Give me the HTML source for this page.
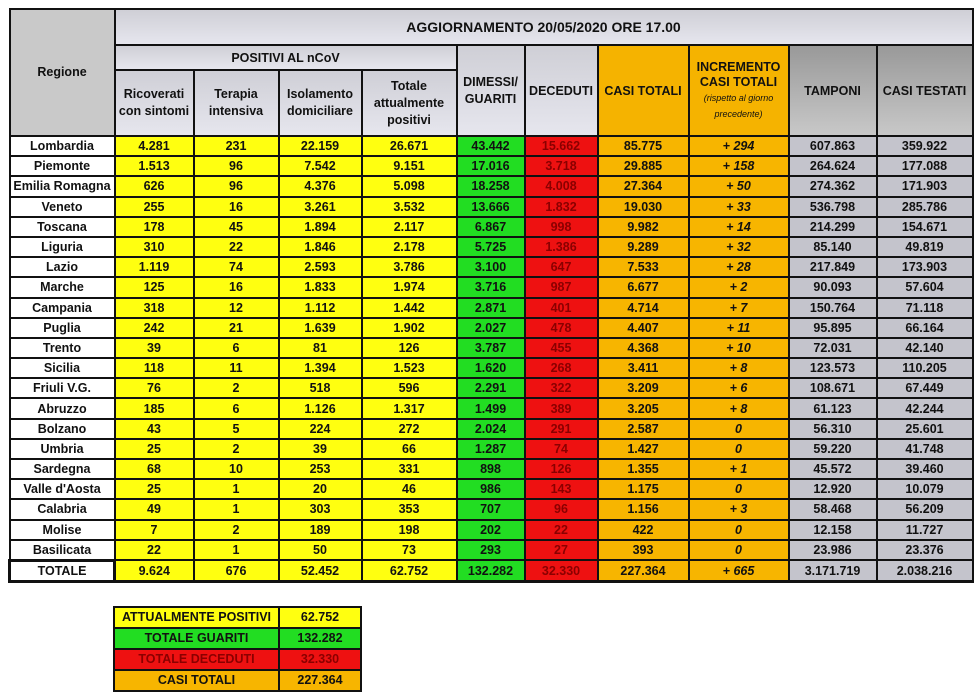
<!DOCTYPE html>
<html><head><meta charset="utf-8"><style>
body{margin:0;width:979px;height:696px;background:#fff;position:relative;overflow:hidden;font-family:"Liberation Sans",Arial,sans-serif;}
table{border-collapse:collapse;table-layout:fixed;position:absolute;}
td{border:2px solid #111;text-align:center;font-weight:bold;font-size:12.5px;padding:0;color:#111;white-space:nowrap;overflow:hidden;}
#t{left:8px;top:8px;width:963px;}
#t tr.d td{height:18.2px;line-height:16px;}
.y{background:#ffff10}.g{background:#22dd22}.r{background:#ee1111;color:#8a0000}.o{background:#f7b500}.gr{background:#c4c4cc}.w{background:#fff}
.o i{font-weight:bold}
.hd{background:linear-gradient(#cfcfd6,#e6e6ee);}
.hg{background:#c9c9c9}
.ho{background:#f5b300}
.ht{background:linear-gradient(#999,#c8c8c8)}
.small{font-size:9px;font-style:italic;font-weight:normal}
#s{left:113px;top:606px;width:247px;}
#s td{height:19px;line-height:17px;font-size:12.5px}
</style></head><body>
<table id="t">
<colgroup><col style="width:105px"><col style="width:79px"><col style="width:85px"><col style="width:83px"><col style="width:95px"><col style="width:68px"><col style="width:73px"><col style="width:91px"><col style="width:100px"><col style="width:88px"><col style="width:96px"></colgroup>
<tr><td rowspan="3" class="hg" style="vertical-align:top;padding-top:55px">Regione</td><td colspan="10" class="hd" style="height:34px;font-size:14px">AGGIORNAMENTO 20/05/2020 ORE 17.00</td></tr>
<tr><td colspan="4" class="hd" style="height:23px">POSITIVI AL nCoV</td><td rowspan="2" class="hd" style="line-height:17px">DIMESSI/<br>GUARITI</td><td rowspan="2" class="hd">DECEDUTI</td><td rowspan="2" class="ho">CASI TOTALI</td><td rowspan="2" class="ho" style="line-height:15px">INCREMENTO<br>CASI TOTALI<br><span class="small">(rispetto al giorno<br>precedente)</span></td><td rowspan="2" class="ht">TAMPONI</td><td rowspan="2" class="ht">CASI TESTATI</td></tr>
<tr><td class="hd" style="height:64px;line-height:17px">Ricoverati<br>con sintomi</td><td class="hd" style="line-height:17px">Terapia<br>intensiva</td><td class="hd" style="line-height:17px">Isolamento<br>domiciliare</td><td class="hd" style="line-height:17px">Totale<br>attualmente<br>positivi</td></tr>
<tr class="d"><td class="w">Lombardia</td><td class="y">4.281</td><td class="y">231</td><td class="y">22.159</td><td class="y">26.671</td><td class="g">43.442</td><td class="r">15.662</td><td class="o">85.775</td><td class="o"><i>+ 294</i></td><td class="gr">607.863</td><td class="gr">359.922</td></tr>
<tr class="d"><td class="w">Piemonte</td><td class="y">1.513</td><td class="y">96</td><td class="y">7.542</td><td class="y">9.151</td><td class="g">17.016</td><td class="r">3.718</td><td class="o">29.885</td><td class="o"><i>+ 158</i></td><td class="gr">264.624</td><td class="gr">177.088</td></tr>
<tr class="d"><td class="w">Emilia Romagna</td><td class="y">626</td><td class="y">96</td><td class="y">4.376</td><td class="y">5.098</td><td class="g">18.258</td><td class="r">4.008</td><td class="o">27.364</td><td class="o"><i>+ 50</i></td><td class="gr">274.362</td><td class="gr">171.903</td></tr>
<tr class="d"><td class="w">Veneto</td><td class="y">255</td><td class="y">16</td><td class="y">3.261</td><td class="y">3.532</td><td class="g">13.666</td><td class="r">1.832</td><td class="o">19.030</td><td class="o"><i>+ 33</i></td><td class="gr">536.798</td><td class="gr">285.786</td></tr>
<tr class="d"><td class="w">Toscana</td><td class="y">178</td><td class="y">45</td><td class="y">1.894</td><td class="y">2.117</td><td class="g">6.867</td><td class="r">998</td><td class="o">9.982</td><td class="o"><i>+ 14</i></td><td class="gr">214.299</td><td class="gr">154.671</td></tr>
<tr class="d"><td class="w">Liguria</td><td class="y">310</td><td class="y">22</td><td class="y">1.846</td><td class="y">2.178</td><td class="g">5.725</td><td class="r">1.386</td><td class="o">9.289</td><td class="o"><i>+ 32</i></td><td class="gr">85.140</td><td class="gr">49.819</td></tr>
<tr class="d"><td class="w">Lazio</td><td class="y">1.119</td><td class="y">74</td><td class="y">2.593</td><td class="y">3.786</td><td class="g">3.100</td><td class="r">647</td><td class="o">7.533</td><td class="o"><i>+ 28</i></td><td class="gr">217.849</td><td class="gr">173.903</td></tr>
<tr class="d"><td class="w">Marche</td><td class="y">125</td><td class="y">16</td><td class="y">1.833</td><td class="y">1.974</td><td class="g">3.716</td><td class="r">987</td><td class="o">6.677</td><td class="o"><i>+ 2</i></td><td class="gr">90.093</td><td class="gr">57.604</td></tr>
<tr class="d"><td class="w">Campania</td><td class="y">318</td><td class="y">12</td><td class="y">1.112</td><td class="y">1.442</td><td class="g">2.871</td><td class="r">401</td><td class="o">4.714</td><td class="o"><i>+ 7</i></td><td class="gr">150.764</td><td class="gr">71.118</td></tr>
<tr class="d"><td class="w">Puglia</td><td class="y">242</td><td class="y">21</td><td class="y">1.639</td><td class="y">1.902</td><td class="g">2.027</td><td class="r">478</td><td class="o">4.407</td><td class="o"><i>+ 11</i></td><td class="gr">95.895</td><td class="gr">66.164</td></tr>
<tr class="d"><td class="w">Trento</td><td class="y">39</td><td class="y">6</td><td class="y">81</td><td class="y">126</td><td class="g">3.787</td><td class="r">455</td><td class="o">4.368</td><td class="o"><i>+ 10</i></td><td class="gr">72.031</td><td class="gr">42.140</td></tr>
<tr class="d"><td class="w">Sicilia</td><td class="y">118</td><td class="y">11</td><td class="y">1.394</td><td class="y">1.523</td><td class="g">1.620</td><td class="r">268</td><td class="o">3.411</td><td class="o"><i>+ 8</i></td><td class="gr">123.573</td><td class="gr">110.205</td></tr>
<tr class="d"><td class="w">Friuli V.G.</td><td class="y">76</td><td class="y">2</td><td class="y">518</td><td class="y">596</td><td class="g">2.291</td><td class="r">322</td><td class="o">3.209</td><td class="o"><i>+ 6</i></td><td class="gr">108.671</td><td class="gr">67.449</td></tr>
<tr class="d"><td class="w">Abruzzo</td><td class="y">185</td><td class="y">6</td><td class="y">1.126</td><td class="y">1.317</td><td class="g">1.499</td><td class="r">389</td><td class="o">3.205</td><td class="o"><i>+ 8</i></td><td class="gr">61.123</td><td class="gr">42.244</td></tr>
<tr class="d"><td class="w">Bolzano</td><td class="y">43</td><td class="y">5</td><td class="y">224</td><td class="y">272</td><td class="g">2.024</td><td class="r">291</td><td class="o">2.587</td><td class="o"><i>0</i></td><td class="gr">56.310</td><td class="gr">25.601</td></tr>
<tr class="d"><td class="w">Umbria</td><td class="y">25</td><td class="y">2</td><td class="y">39</td><td class="y">66</td><td class="g">1.287</td><td class="r">74</td><td class="o">1.427</td><td class="o"><i>0</i></td><td class="gr">59.220</td><td class="gr">41.748</td></tr>
<tr class="d"><td class="w">Sardegna</td><td class="y">68</td><td class="y">10</td><td class="y">253</td><td class="y">331</td><td class="g">898</td><td class="r">126</td><td class="o">1.355</td><td class="o"><i>+ 1</i></td><td class="gr">45.572</td><td class="gr">39.460</td></tr>
<tr class="d"><td class="w">Valle d'Aosta</td><td class="y">25</td><td class="y">1</td><td class="y">20</td><td class="y">46</td><td class="g">986</td><td class="r">143</td><td class="o">1.175</td><td class="o"><i>0</i></td><td class="gr">12.920</td><td class="gr">10.079</td></tr>
<tr class="d"><td class="w">Calabria</td><td class="y">49</td><td class="y">1</td><td class="y">303</td><td class="y">353</td><td class="g">707</td><td class="r">96</td><td class="o">1.156</td><td class="o"><i>+ 3</i></td><td class="gr">58.468</td><td class="gr">56.209</td></tr>
<tr class="d"><td class="w">Molise</td><td class="y">7</td><td class="y">2</td><td class="y">189</td><td class="y">198</td><td class="g">202</td><td class="r">22</td><td class="o">422</td><td class="o"><i>0</i></td><td class="gr">12.158</td><td class="gr">11.727</td></tr>
<tr class="d"><td class="w">Basilicata</td><td class="y">22</td><td class="y">1</td><td class="y">50</td><td class="y">73</td><td class="g">293</td><td class="r">27</td><td class="o">393</td><td class="o"><i>0</i></td><td class="gr">23.986</td><td class="gr">23.376</td></tr>
<tr class="d"><td class="w" style="border-width:3px">TOTALE</td><td class="y" style="border-bottom-width:3px">9.624</td><td class="y" style="border-bottom-width:3px">676</td><td class="y" style="border-bottom-width:3px">52.452</td><td class="y" style="border-bottom-width:3px">62.752</td><td class="g" style="border-bottom-width:3px">132.282</td><td class="r" style="border-bottom-width:3px">32.330</td><td class="o" style="border-bottom-width:3px">227.364</td><td class="o" style="border-bottom-width:3px"><i>+ 665</i></td><td class="gr" style="border-bottom-width:3px">3.171.719</td><td class="gr" style="border-bottom-width:3px">2.038.216</td></tr>
</table>
<table id="s">
<colgroup><col style="width:165px"><col style="width:82px"></colgroup>
<tr><td class="y">ATTUALMENTE POSITIVI</td><td class="y">62.752</td></tr>
<tr><td class="g">TOTALE GUARITI</td><td class="g">132.282</td></tr>
<tr><td class="r">TOTALE DECEDUTI</td><td class="r">32.330</td></tr>
<tr><td class="o">CASI TOTALI</td><td class="o">227.364</td></tr>
</table>
</body></html>
